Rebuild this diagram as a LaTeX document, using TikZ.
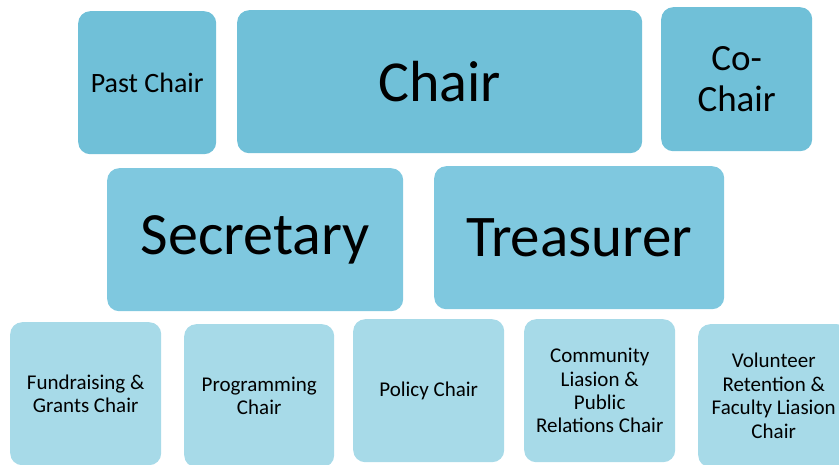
\documentclass[tikz,border=0pt]{standalone}
\usepackage{fontspec}
\setmainfont{Carlito}
\definecolor{topblue}{RGB}{112,192,216}
\definecolor{midblue}{RGB}{127,200,223}
\definecolor{lowblue}{RGB}{167,218,232}
\tikzset{
  box/.style={rectangle, rounded corners=12pt, inner sep=0pt, anchor=north west, align=center, text=black},
  topbox/.style={box, fill=topblue},
  midbox/.style={box, fill=midblue},
  lowbox/.style={box, fill=lowblue, minimum height=143pt, minimum width=151pt, font=\fontsize{21}{23.4}\selectfont},
}
\begin{document}
\begin{tikzpicture}[x=1pt,y=-1pt]
\useasboundingbox (0,0) rectangle (839,464);
\clip (0,0) rectangle (839,464);
% top row
\node[topbox, minimum width=138pt, minimum height=143pt, font=\fontsize{28}{33}\selectfont] (past) at (78,11) {Past Chair};
\node[topbox, minimum width=405pt, minimum height=143pt, font=\fontsize{58}{69}\selectfont] (chair) at (237,10) {Chair};
\node[topbox, minimum width=151pt, minimum height=144pt, font=\fontsize{37}{41}\selectfont] (cochair) at (661,7) {Co-\\Chair};
% middle row
\node[midbox, minimum width=296pt, minimum height=143pt, font=\fontsize{60}{72}\selectfont] (secretary) at (107,168) {Secretary};
\node[midbox, minimum width=290pt, minimum height=143pt, font=\fontsize{59}{71}\selectfont] (treasurer) at (434,166) {Treasurer};
% bottom row
\node[lowbox] (fund) at (10,322) {Fundraising \&\\Grants Chair};
\node[lowbox, minimum width=150pt] (prog) at (184,324) {Programming\\Chair};
\node[lowbox] (policy) at (353,319) {Policy Chair};
\node[lowbox] (comm) at (524,319) {Community\\Liasion \&\\Public\\Relations Chair};
\node[lowbox] (vol) at (698,324) {Volunteer\\Retention \&\\Faculty Liasion\\Chair};
\end{tikzpicture}
\end{document}
